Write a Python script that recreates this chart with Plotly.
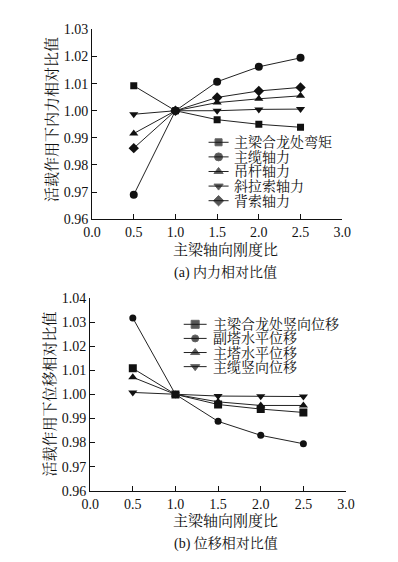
import plotly.graph_objects as go

x_vals = [0.5, 1.0, 1.5, 2.0, 2.5]

# (a) internal force ratios
a_names = ["主梁合龙处弯矩", "主缆轴力", "吊杆轴力", "斜拉索轴力", "背索轴力"]
a_moment = [1.0092, 1.0, 0.9967, 0.9950, 0.9939]
a_cable = [0.9690, 1.0, 1.0107, 1.0162, 1.0195]
a_hanger = [0.9916, 1.0, 1.0030, 1.0044, 1.0055]
a_stay = [0.9987, 1.0, 1.0000, 1.0005, 1.0006]
a_back = [0.9862, 1.0, 1.0049, 1.0073, 1.0086]
a_series = [a_moment, a_cable, a_hanger, a_stay, a_back]

# (b) displacement ratios
b_names = ["主梁合龙处竖向位移", "副塔水平位移", "主塔水平位移", "主缆竖向位移"]
b_girder = [1.0108, 1.0, 0.9958, 0.9939, 0.9925]
b_subtower = [1.0317, 1.0, 0.9888, 0.9830, 0.9795]
b_tower = [1.0071, 1.0, 0.9969, 0.9954, 0.9954]
b_cable = [1.0008, 1.0, 0.9993, 0.9992, 0.9991]
b_series = [b_girder, b_subtower, b_tower, b_cable]

x_ticks = [0.0, 0.5, 1.0, 1.5, 2.0, 2.5, 3.0]
a_yticks = [0.96, 0.97, 0.98, 0.99, 1.00, 1.01, 1.02, 1.03]
b_yticks = [0.96, 0.97, 0.98, 0.99, 1.00, 1.01, 1.02, 1.03, 1.04]

# marker styles
a_symbols = ["square", "circle", "triangle-up", "triangle-down", "diamond"]
a_sizes = [7, 8, 8, 8, 8]
b_symbols = ["square", "circle", "triangle-up", "triangle-down"]
b_sizes = [8, 7, 8, 8]

FONT = "Liberation Serif, Noto Serif CJK SC, Noto Sans CJK SC, serif"
LC = "#222222"
MC = "#111111"
W, H = 398, 562

fig = go.Figure()

for name, ys, sym, sz in zip(a_names, a_series, a_symbols, a_sizes):
    fig.add_trace(go.Scatter(
        x=x_vals, y=ys, name=name, mode="lines+markers",
        line=dict(color=LC, width=1),
        marker=dict(symbol=sym, size=sz, color=MC),
        xaxis="x", yaxis="y", showlegend=False))

for name, ys, sym, sz in zip(b_names, b_series, b_symbols, b_sizes):
    fig.add_trace(go.Scatter(
        x=x_vals, y=ys, name=name, mode="lines+markers",
        line=dict(color=LC, width=1),
        marker=dict(symbol=sym, size=sz, color=MC),
        xaxis="x2", yaxis="y2", showlegend=False))

# hand-drawn legend keys on a full-page pixel-unit axis
annotations = []
def legend_block(names, symbols, sizes, top, step, x0, x1, xt):
    for i, (name, sym, sz) in enumerate(zip(names, symbols, sizes)):
        r = top + i * step
        fig.add_trace(go.Scatter(
            x=[x0, (x0 + x1) / 2, x1], y=[r, r, r], mode="lines+markers",
            line=dict(color=LC, width=1),
            marker=dict(symbol=sym, size=[0, sz, 0], color=MC),
            xaxis="x3", yaxis="y3", showlegend=False, hoverinfo="skip"))
        annotations.append(dict(text=name, x=xt / W, y=1 - r / H, xanchor="left",
                                yanchor="middle", font=dict(size=14)))

legend_block(a_names, a_symbols, a_sizes, 139, 15, 209, 230, 234)
legend_block(b_names, b_symbols, b_sizes, 326, 14.5, 183, 207, 212)

axis_common = dict(
    showline=True, linecolor="#111111", linewidth=1, mirror=False,
    ticks="inside", ticklen=5, tickcolor="#111111", tickwidth=1,
    showgrid=False, zeroline=False,
    tickfont=dict(family=FONT, size=14, color="#111111"),
)

fig.update_layout(
    width=W, height=H,
    margin=dict(l=0, r=0, t=0, b=0),
    paper_bgcolor="white", plot_bgcolor="rgba(0,0,0,0)",
    font=dict(family=FONT, color="#111111"),
    xaxis=dict(domain=[87 / W, 349 / W], range=[0, 3.0], tickvals=x_ticks,
               ticktext=[f"{v:.1f}" for v in x_ticks], anchor="y", **axis_common),
    yaxis=dict(domain=[1 - 218 / H, 1 - 23 / H], range=[0.96, 1.03], tickvals=a_yticks,
               ticktext=[f"{v:.2f}" for v in a_yticks], anchor="x", **axis_common),
    xaxis2=dict(domain=[85 / W, 353 / W], range=[0, 3.0], tickvals=x_ticks,
                ticktext=[f"{v:.1f}" for v in x_ticks], anchor="y2", **axis_common),
    yaxis2=dict(domain=[1 - 497 / H, 1 - 299 / H], range=[0.96, 1.04], tickvals=b_yticks,
                ticktext=[f"{v:.2f}" for v in b_yticks], anchor="x2", **axis_common),
    xaxis3=dict(domain=[0, 1], range=[0, W], visible=False, fixedrange=True,
                anchor="y3", showgrid=False, zeroline=False),
    yaxis3=dict(domain=[0, 1], range=[H, 0], visible=False, fixedrange=True,
                anchor="x3", showgrid=False, zeroline=False),
    showlegend=False,
)

annotations += [
    dict(text="活载作用下内力相对比值", x=45 / W, y=1 - 115 / H, textangle=-90,
         font=dict(size=15)),
    dict(text="主梁轴向刚度比", x=227 / W, y=1 - 249 / H, font=dict(size=15)),
    dict(text="(a) 内力相对比值", x=227 / W, y=1 - 273 / H, font=dict(size=14)),
    dict(text="活载作用下位移相对比值", x=42 / W, y=1 - 398 / H, textangle=-90,
         font=dict(size=15)),
    dict(text="主梁轴向刚度比", x=227 / W, y=1 - 528 / H, font=dict(size=15)),
    dict(text="(b) 位移相对比值", x=227 / W, y=1 - 551 / H, font=dict(size=14)),
]
for a in annotations:
    a.setdefault("xanchor", "center")
    a.setdefault("yanchor", "middle")
    a.update(xref="paper", yref="paper", showarrow=False)
    a["font"].update(family=FONT, color="#111111")
fig.update_layout(annotations=annotations)

fig.write_html("out.html", config={"displayModeBar": False},
               post_script="document.body.style.margin='0';")
